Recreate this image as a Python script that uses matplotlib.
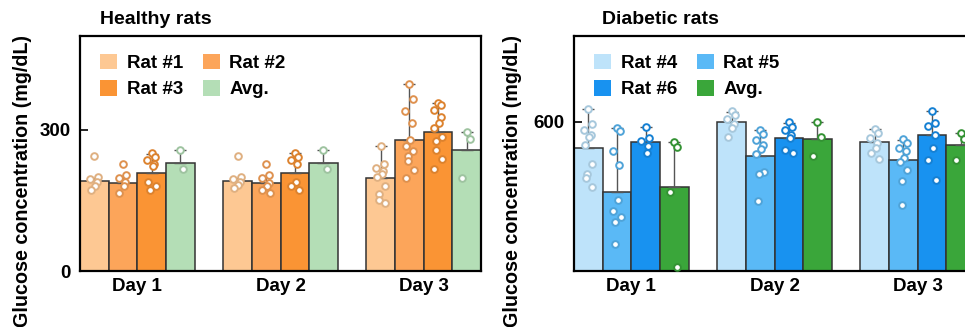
import numpy as np
import matplotlib
matplotlib.use('Agg')
import matplotlib.pyplot as plt
import matplotlib.colors as mcolors
from matplotlib.patches import Patch

plt.rcParams['font.family'] = ['Liberation Sans', 'DejaVu Sans']
plt.rcParams['font.weight'] = 'bold'

days = ['Day 1', 'Day 2', 'Day 3']

healthy_labels = ['Rat #1', 'Rat #2', 'Rat #3', 'Avg.']
healthy_colors = ['#FDC893', '#FCA55A', '#FA9434', '#B4DEB6']
# mean per day (rows) and rat (cols)
healthy_mean = [[192, 187, 209, 229],
                [192, 187, 209, 229],
                [197, 279, 295, 257]]
healthy_sd = [[5, 15, 41, 29],
              [5, 16, 43, 29],
              [70, 119, 63, 39]]
healthy_pts = [
    [[245, 199, 195, 190, 181, 173],
     [228, 204, 197, 190, 181, 167],
     [252, 243, 236, 227, 224, 190, 181, 173],
     [258, 217]],
    [[245, 199, 195, 190, 183, 176],
     [228, 204, 197, 187, 180, 173, 167],
     [252, 243, 236, 228, 190, 181, 173],
     [258, 217]],
    [[267, 227, 220, 213, 206, 199, 181, 164, 151, 144],
     [398, 367, 341, 314, 279, 265, 255, 244, 233, 215, 197],
     [358, 353, 342, 328, 315, 304, 286, 277, 257, 238, 216],
     [296, 280, 197]],
]

diabetic_labels = ['Rat #4', 'Rat #5', 'Rat #6', 'Avg.']
diabetic_colors = ['#BEE3FA', '#5AB9F6', '#1892F0', '#3AA63A']
diabetic_mean = [[494, 316, 517, 336],
                 [599, 461, 534, 530],
                 [518, 447, 548, 507]]
diabetic_sd = [[158, 258, 61, 181],
               [42, 107, 61, 71],
               [54, 80, 97, 47]]
diabetic_pts = [
    [[652, 591, 568, 548, 537, 507, 430, 390, 374, 336],
     [574, 561, 481, 427, 286, 242, 219, 199, 108],
     [578, 534, 521, 501, 474],
     [517, 497, 316, 15]],
    [[644, 628, 612, 591, 574, 537],
     [568, 550, 528, 507, 491, 470, 400, 390, 282],
     [601, 581, 568, 548, 534, 487, 474],
     [601, 537, 461]],
    [[572, 554, 534, 514, 494, 474, 451],
     [530, 514, 494, 481, 454, 440, 407, 360, 266],
     [645, 595, 584, 548, 494, 447, 367],
     [554, 530, 447]],
]

W, H = 965, 327
FS = 13.5


def darker(c, f=0.88):
  r, g, b = mcolors.to_rgb(c)
  return (r * f, g * f, b * f)


def panel(ax, labels, colors, mean, sd, pts, ymax, yticks):
  width = 0.2
  x = np.arange(len(days))
  for i in range(len(labels)):
    pos = x + (i - 1.5) * width
    m = [row[i] for row in mean]
    s = [row[i] for row in sd]
    ax.bar(pos, m, width, color=colors[i], edgecolor='#333333', linewidth=1.1, zorder=2)
    ax.errorbar(pos, m, yerr=[np.zeros(len(s)), s], fmt='none', ecolor='#555555',
                elinewidth=1, capsize=4.5, capthick=1, zorder=3)
    for d in range(len(days)):
      v = np.array(pts[d][i])
      jit = 0.03 * np.sin(np.arange(len(v)) * 2.3)
      ax.plot(pos[d] + jit, v, 'o', ms=4.8, mfc='white', mec=darker(colors[i]),
              mew=1.4, zorder=4, clip_on=True)
  ax.set_xlim(-0.4, 2.4)
  ax.set_ylim(0, ymax)
  ax.set_xticks(x)
  ax.set_xticklabels(days, fontsize=FS, fontweight='bold')
  ax.set_yticks(yticks)
  ax.set_yticklabels([str(t) for t in yticks], fontsize=FS, fontweight='bold')
  ax.tick_params(axis='x', length=0, pad=5)
  ax.tick_params(axis='y', direction='in', length=6, width=1.2, pad=7)
  for sp in ax.spines.values():
    sp.set_linewidth(1.6)
  order = [0, 2, 1, 3]
  handles = [Patch(facecolor=colors[k], edgecolor='none') for k in order]
  ax.legend(handles, [labels[k] for k in order], ncol=2, frameon=False,
            loc='upper left', bbox_to_anchor=(0.05, 0.925), borderpad=0,
            borderaxespad=0, handlelength=0.92, handleheight=0.92,
            handletextpad=0.5, columnspacing=1.05, labelspacing=0.42,
            prop={'size': FS, 'weight': 'bold'})


fig = plt.figure(figsize=(W / 100, H / 100), dpi=100)
ax1 = fig.add_axes([80 / W, 56 / H, 401 / W, 235 / H])
ax2 = fig.add_axes([574 / W, 56 / H, 401 / W, 235 / H])

panel(ax1, healthy_labels, healthy_colors, healthy_mean, healthy_sd, healthy_pts, 500, [0, 300])
panel(ax2, diabetic_labels, diabetic_colors, diabetic_mean, diabetic_sd, diabetic_pts, 945, [600])

fig.text(100 / W, 1 - 20 / H, 'Healthy rats', fontsize=14, fontweight='bold', va='center', ha='left')
fig.text(602 / W, 1 - 20 / H, 'Diabetic rats', fontsize=14, fontweight='bold', va='center', ha='left')
fig.text(23 / W, 1 - 181 / H, 'Glucose concentration (mg/dL)', fontsize=14.2, fontweight='bold',
         rotation=90, va='center', ha='center')
fig.text(512 / W, 1 - 181 / H, 'Glucose concentration (mg/dL)', fontsize=14.2, fontweight='bold',
         rotation=90, va='center', ha='center')

fig.savefig('out.png', dpi=100)
